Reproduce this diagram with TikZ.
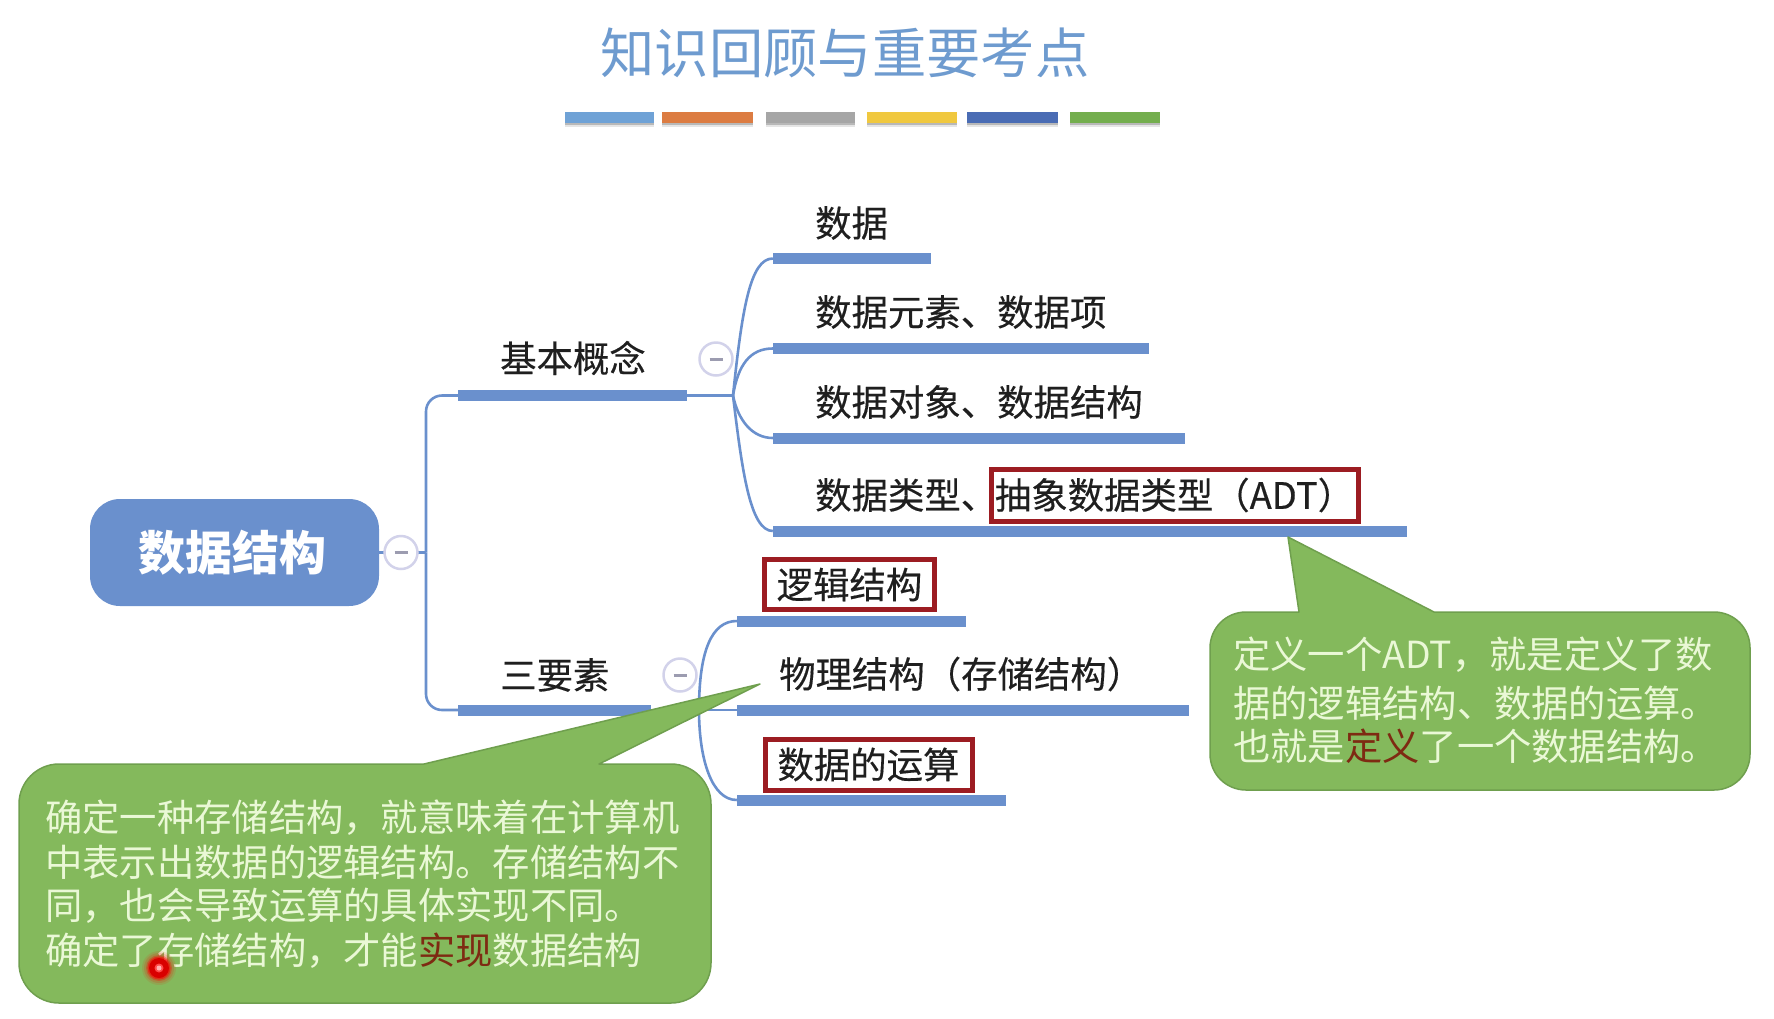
\documentclass[tikz,border=0pt]{standalone}
\usepackage{fontspec}
\setmainfont{Noto Sans CJK SC}
\newfontfamily\lblfont[FakeBold=0.35]{Noto Sans CJK SC}
\definecolor{treeblue}{HTML}{6A90CD}
\definecolor{titleblue}{HTML}{6E9BCF}
\definecolor{boxred}{HTML}{9C1C22}
\definecolor{callgreen}{HTML}{84B95C}
\definecolor{calledge}{HTML}{6F9F4E}
\definecolor{calltext}{HTML}{EAF8D6}
\definecolor{hilite}{HTML}{7E2A12}
\definecolor{ringc}{HTML}{D2D2EA}
\definecolor{minusc}{HTML}{9C9CB0}
\newcommand{\fs}[1]{\fontsize{#1}{#1}\selectfont}
\newcommand{\minusbar}{\rule{13pt}{3pt}}
\tikzset{
  x=1pt,y=-1pt,
  lbl/.style={inner sep=0pt,anchor=west,text=black!88,font=\lblfont\fs{36.4}},
  barbox/.style={fill=treeblue,inner sep=0pt,minimum height=11pt},
  stripe/.style={inner sep=0pt,minimum height=11pt,minimum width=#1},
  redbox/.style={draw=boxred,line width=5pt,fill=white,inner sep=0pt,text=black!88,font=\lblfont\fs{36.4}},
  link/.style={draw=treeblue,line width=2.6pt},
  toggle/.style={circle,draw=ringc,line width=2.5pt,fill=white,minimum size=33pt,inner sep=0pt,text=minusc},
  callout/.style={fill=callgreen,draw=calledge,line width=1.5pt,line join=round},
  calllbl/.style={inner sep=0pt,anchor=west,text=calltext,font=\fs{37.3}},
}
\begin{document}
\begin{tikzpicture}
\useasboundingbox (0,0) rectangle (1774,1018);
% title
\node[inner sep=0pt,text=titleblue,font=\fs{54.3}] (title) at (845,53) {知识回顾与重要考点};
% title stripes with soft lower edge
\foreach \n/\cx/\w/\c in {s1/609.5/89/6FA2D6,s2/707.5/91/DC7C42,s3/810.5/89/A6A6A6,s4/912/90/F0C83F,s5/1012.5/91/4A6CB4,s6/1115/90/74AE4E}{
  \definecolor{stripecol}{HTML}{\c}
  \fill[black!10] (\cx-\w/2,122) rectangle (\cx+\w/2,127);
  \fill[black!28] (\cx-\w/2,122) rectangle (\cx+\w/2,124.5);
  \node[stripe=\w pt,fill=stripecol] (\n) at (\cx,117) {};
}
% root
\node[fill=treeblue,rounded corners=30pt,minimum width=289pt,minimum height=107pt,inner sep=0pt] (root) at (234.5,552.5) {};
\node[inner sep=0pt,text=white,font=\fs{47}\bfseries] (roottext) at (232.5,552.5) {数据结构};
% level-one bars
\node[barbox,minimum width=229pt] (basic) at (572.5,395.5) {};
\node[barbox,minimum width=193pt] (three) at (554.5,710) {};
% level-two bars
\node[barbox,minimum width=158pt] (a1) at (852,258.5) {};
\node[barbox,minimum width=376pt] (a2) at (961,348.5) {};
\node[barbox,minimum width=412pt] (a3) at (979,438) {};
\node[barbox,minimum width=634pt] (a4) at (1090,531) {};
\node[barbox,minimum width=229pt] (c1) at (851.5,621) {};
\node[barbox,minimum width=452pt] (c2) at (963,710) {};
\node[barbox,minimum width=269pt] (c3) at (871.5,800) {};
% junctions
\coordinate (jroot) at (426,552.5);
\coordinate (jbasic) at (733,395.5);
\coordinate (jthree) at (699,710);
% connectors
\draw[link] (root.east) -- (jroot);
\draw[link,rounded corners=16pt] (basic.west) -| (jroot);
\draw[link,rounded corners=16pt] (three.west) -| (jroot);
\draw[link] (basic.east) -- (jbasic);
\draw[link] (jbasic) .. controls (742,310) and (750,258.5) .. (a1.west);
\draw[link] (jbasic) .. controls (738,365) and (750,348.5) .. (a2.west);
\draw[link] (jbasic) .. controls (738,420) and (752,438) .. (a3.west);
\draw[link] (jbasic) .. controls (742,470) and (750,531) .. (a4.west);
\draw[link] (three.east) -- (c2.west);
\draw[link] (jthree) .. controls (699,650) and (712,621) .. (c1.west);
\draw[link] (jthree) .. controls (699,760) and (712,800) .. (c3.west);
% toggles
\node[toggle] (troot) at (401,552.5) {\minusbar};
\node[toggle] (tbasic) at (716,359) {\minusbar};
\node[toggle] (tthree) at (680,675) {\minusbar};
% labels
\node[lbl] (lbasic) at (500,358) {基本概念};
\node[lbl] (lthree) at (500,675) {三要素};
\node[lbl] (l1) at (815,223) {数据};
\node[lbl] (l2) at (815,312) {数据元素、数据项};
\node[lbl] (l3) at (815,402) {数据对象、数据结构};
\node[lbl] (l4) at (815,495) {数据类型、};
\node[redbox,minimum width=367pt,minimum height=52pt] (l4b) at (1174.5,495) {抽象数据类型（ADT）};
\node[redbox,minimum width=170pt,minimum height=50pt] (m1) at (849.5,584.5) {逻辑结构};
\node[lbl] (m2) at (779,674) {物理结构（存储结构）};
\node[redbox,minimum width=207pt,minimum height=51pt] (m3) at (868.5,764.5) {数据的运算};
% left callout
\coordinate (tipL) at (760,684);
\draw[callout] (424,764) -- (tipL) -- (599,764) -- (671,764)
  .. controls (693,764) and (711,782) .. (711,804) -- (711,963)
  .. controls (711,985) and (693,1003) .. (671,1003) -- (59,1003)
  .. controls (37,1003) and (19,985) .. (19,963) -- (19,804)
  .. controls (19,782) and (37,764) .. (59,764) -- cycle;
\node[calllbl] (p1) at (45,818) {确定一种存储结构，就意味着在计算机};
\node[calllbl] (p2) at (45,862) {中表示出数据的逻辑结构。存储结构不};
\node[calllbl] (p3) at (45,906) {同，也会导致运算的具体实现不同。};
\node[calllbl] (p4) at (45,951) {确定了存储结构，才能{\color{hilite}实现}数据结构};
% right callout
\coordinate (tipR) at (1288,537);
\draw[callout] (1299,612) -- (tipR) -- (1434,612) -- (1714,612)
  .. controls (1734,612) and (1750,628) .. (1750,648) -- (1750,754)
  .. controls (1750,774) and (1734,790) .. (1714,790) -- (1246,790)
  .. controls (1226,790) and (1210,774) .. (1210,754) -- (1210,648)
  .. controls (1210,628) and (1226,612) .. (1246,612) -- cycle;
\node[calllbl] (q1) at (1233,655) {定义一个ADT，就是定义了数};
\node[calllbl] (q2) at (1233,703) {据的逻辑结构、数据的运算。};
\node[calllbl] (q3) at (1233,746) {也就是{\color{hilite}定义}了一个数据结构。};
% laser pointer
\foreach \r/\o in {17/.10,15/.15,13/.3,11.5/.5}{\fill[red,opacity=\o] (159,968) circle (\r);}
\fill[red!85!black] (159,968) circle (10);
\fill[red!70!white] (159,968) circle (4.5);
\fill[white!70!red] (159,968) circle (2.5);
\end{tikzpicture}
\end{document}
